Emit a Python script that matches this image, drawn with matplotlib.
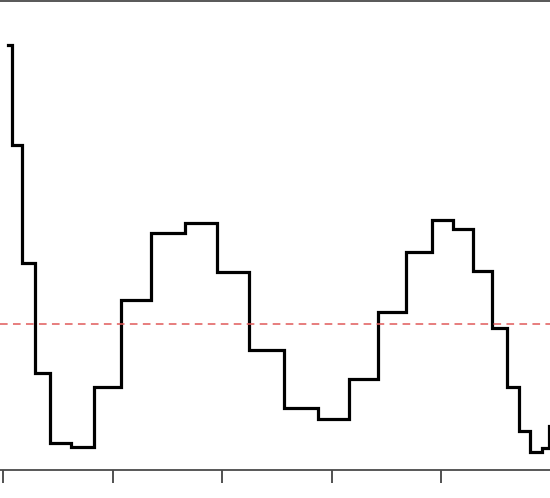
import matplotlib
matplotlib.use("Agg")
import matplotlib.pyplot as plt

# Step edges (x) and values (y)
x_edges = [0.043, 0.084, 0.171, 0.290, 0.427, 0.619, 0.829, 1.080, 1.346, 1.661,
           1.956, 2.249, 2.569, 2.879, 3.163, 3.428, 3.681, 3.916, 4.108, 4.296,
           4.467, 4.601, 4.714, 4.815, 4.922, 4.984, 5.10]
y_values = [4.25, 3.25, 2.07, 0.97, 0.27, 0.23, 0.83, 1.70, 2.37, 2.47,
            1.98, 1.20, 0.62, 0.51, 0.91, 1.58, 2.18, 2.50, 2.41, 1.99,
            1.42, 0.83, 0.39, 0.18, 0.22, 0.44, 0.44]
reference_level = 1.46
x_ticks = [0, 1, 2, 3, 4]

fig = plt.figure(figsize=(5.5, 4.98), dpi=100)
ax = fig.add_axes([0.0, 0.0556, 1.0, 0.9424])

ax.plot(x_edges, y_values, drawstyle="steps-post", color="black", linewidth=2.3,
        solid_joinstyle="miter")
ax.axhline(reference_level, color="#e05a5a", linestyle=(0, (5, 3.5)), linewidth=1.1)

ax.set_xlim(-0.030, 4.997)
ax.set_ylim(0, 4.69)
ax.set_xticks(x_ticks)
ax.set_xticklabels([])
ax.set_yticks([])
ax.tick_params(axis="x", direction="out", length=9.5, width=1.1, color="#222222")

for side in ("left", "right"):
    ax.spines[side].set_visible(False)
for side in ("top", "bottom"):
    ax.spines[side].set_color("#4a4a4a")
    ax.spines[side].set_linewidth(1.3)

fig.savefig("out.png", dpi=100)
